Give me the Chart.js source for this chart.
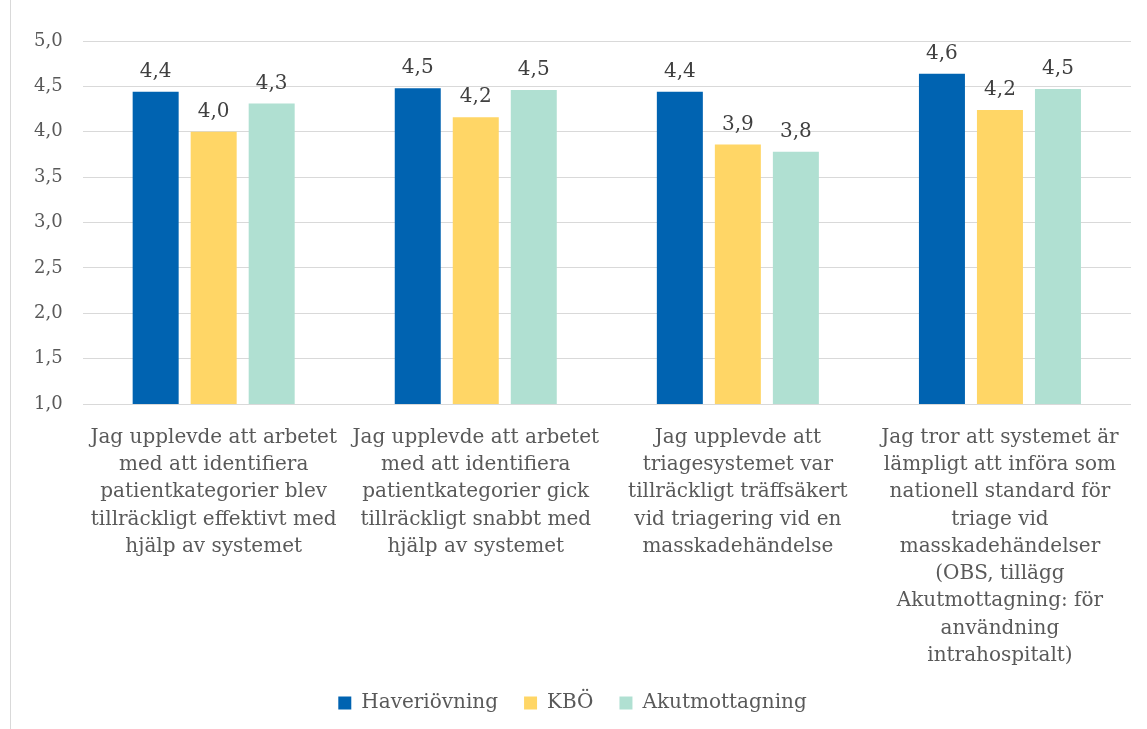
<!DOCTYPE html>
<html>
<head>
<meta charset="utf-8">
<script src="https://cdn.jsdelivr.net/npm/chart.js@4.4.0/dist/chart.umd.min.js"></script>
<style>
  html, body { margin: 0; padding: 0; background: #fff; }
  #wrap { position: relative; width: 1147px; height: 729px; }
  #wrap::before { content: ''; position: absolute; left: 10px; top: 0; bottom: 0; border-left: 1px solid #d9d9d9; }
</style>
</head>
<body>
<div id="wrap"><canvas id="chart-root" width="1147" height="729"></canvas></div>
<script>
// data
const kategorier = [
  ['Jag upplevde att arbetet', 'med att identifiera', 'patientkategorier blev', 'tillräckligt effektivt med', 'hjälp av systemet'],
  ['Jag upplevde att arbetet', 'med att identifiera', 'patientkategorier gick', 'tillräckligt snabbt med', 'hjälp av systemet'],
  ['Jag upplevde att', 'triagesystemet var', 'tillräckligt träffsäkert', 'vid triagering vid en', 'masskadehändelse'],
  ['Jag tror att systemet är', 'lämpligt att införa som', 'nationell standard för', 'triage vid', 'masskadehändelser', '(OBS, tillägg', 'Akutmottagning: för', 'användning', 'intrahospitalt)']
];
const serier = ['Haveriövning', 'KBÖ', 'Akutmottagning'];
const haveriovning = [4.44, 4.48, 4.44, 4.64];
const kbo = [4.0, 4.16, 3.86, 4.24];
const akutmottagning = [4.31, 4.46, 3.78, 4.47];
const yTicks = { min: 1, max: 5, steg: 0.5 };

const FONT = "'DejaVu Serif', Georgia, serif";
const komma = v => Number(v).toFixed(1).replace('.', ',');

// egen liten plugin for siffrorna ovanfor staplarna
const etiketter = {
  id: 'etiketter',
  afterDatasetsDraw(chart) {
    const ctx = chart.ctx;
    ctx.save();
    ctx.font = '20px ' + FONT;
    ctx.fillStyle = '#404040';
    ctx.textAlign = 'center';
    ctx.textBaseline = 'bottom';
    chart.data.datasets.forEach((ds, i) => {
      chart.getDatasetMeta(i).data.forEach((bar, j) => {
        ctx.fillText(komma(ds.data[j]), bar.x, bar.y - 10);
      });
    });
    ctx.restore();
  }
};

new Chart(document.getElementById('chart-root'), {
  type: 'bar',
  data: {
    labels: kategorier,
    datasets: [
      { label: serier[0], data: haveriovning, backgroundColor: '#0063b1' },
      { label: serier[1], data: kbo, backgroundColor: '#ffd666' },
      { label: serier[2], data: akutmottagning, backgroundColor: '#b0e0d2' }
    ]
  },
  options: {
    responsive: false,
    animation: false,
    layout: { padding: { left: 14, right: 16, top: 41, bottom: 6 } },
    datasets: { bar: { categoryPercentage: 0.664, barPercentage: 0.793 } },
    scales: {
      x: {
        grid: { display: false },
        border: { display: false },
        ticks: {
          color: '#595959',
          font: { family: FONT, size: 20, lineHeight: 1.3625 },
          maxRotation: 0, autoSkip: false, padding: 12
        },
        // fast hojd pa axeln sa att 1,0-linjen hamnar ratt
        afterFit: s => { s.height = 263; }
      },
      y: {
        min: yTicks.min, max: yTicks.max,
        grid: { color: '#d9d9d9', drawTicks: false },
        border: { display: false },
        ticks: {
          stepSize: yTicks.steg,
          color: '#595959',
          padding: 20,
          font: { family: FONT, size: 18 },
          callback: v => komma(v)
        }
      }
    },
    plugins: {
      tooltip: { enabled: false },
      legend: {
        position: 'bottom',
        labels: {
          color: '#595959',
          font: { family: FONT, size: 20 },
          boxWidth: 13, boxHeight: 13, padding: 26
        }
      }
    }
  },
  plugins: [etiketter]
});
</script>
</body>
</html>
